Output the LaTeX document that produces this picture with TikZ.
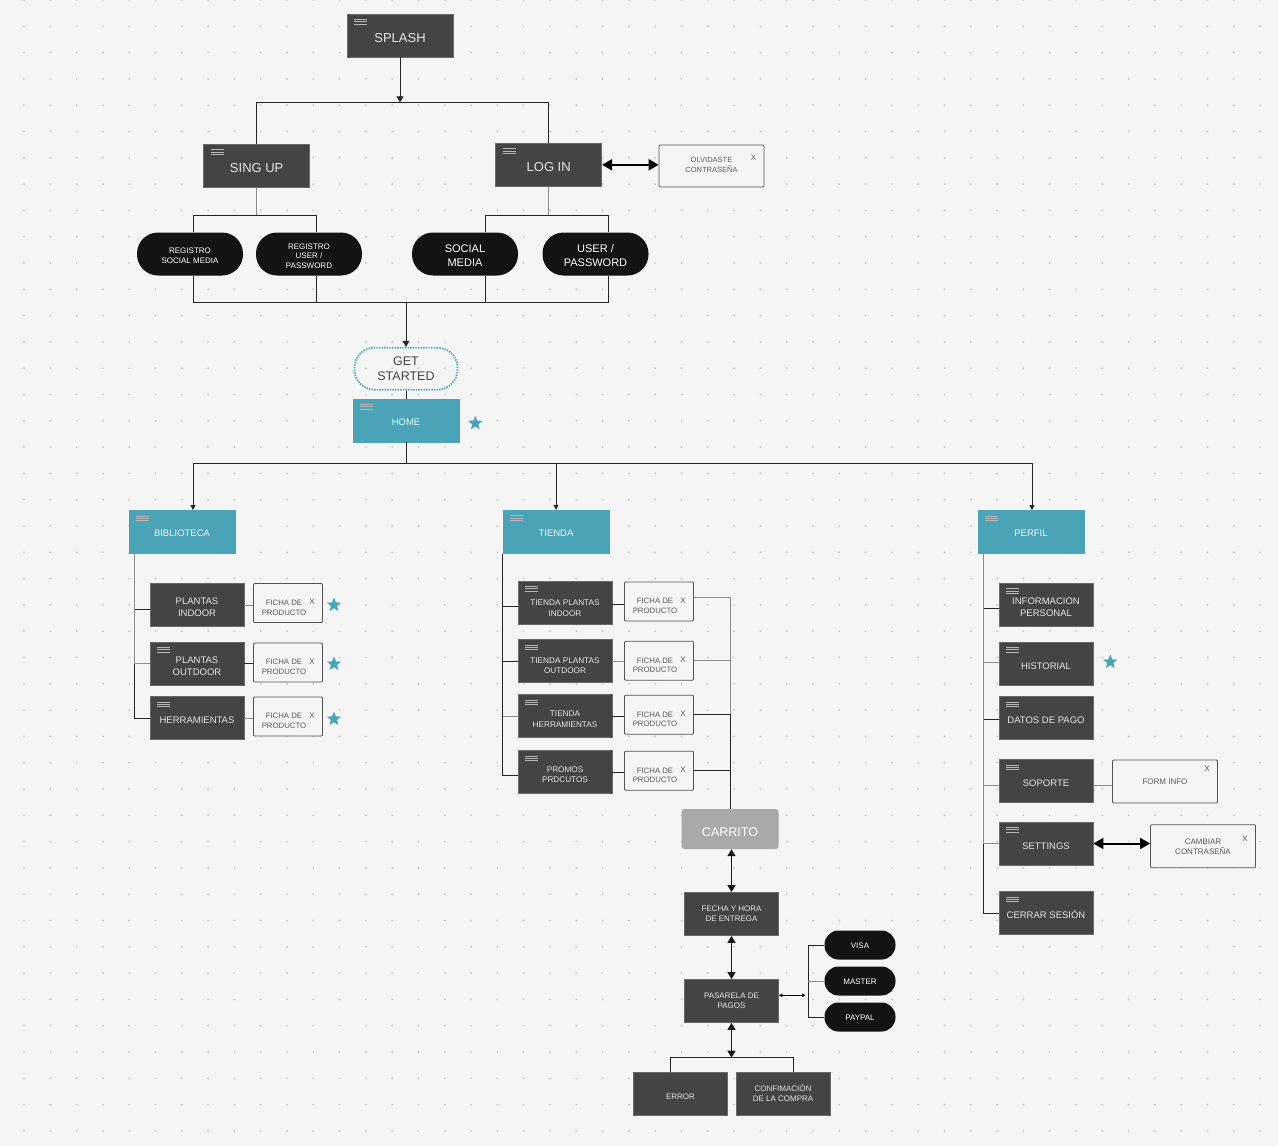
\documentclass[tikz,border=0pt]{standalone}
\usepackage{fontspec}
\setmainfont{Liberation Sans}
\usetikzlibrary{arrows.meta,shapes.geometric}
\definecolor{bgc}{HTML}{F5F5F5}
\definecolor{dotc}{HTML}{C6C6C6}
\definecolor{boxgray}{HTML}{444444}
\definecolor{boxline}{HTML}{6A6A6A}
\definecolor{tealc}{HTML}{4AA3B6}
\definecolor{pillc}{HTML}{131313}
\definecolor{cartc}{HTML}{A9A9A9}
\definecolor{popline}{HTML}{555555}
\definecolor{poptext}{HTML}{5A5A5A}
\newcommand\fsz[2]{\fontsize{#1}{#2}\selectfont}
\newcommand\fichatxt{FICHA DE\hspace*{8pt}\\PRODUCTO\hspace*{8pt}}

\begin{document}
\begin{tikzpicture}[x=1pt,y=-1pt]
\tikzset{
  screen/.style={draw=boxline, line width=0.8pt, fill=boxgray, text=white!90!black,
    align=center, inner sep=1pt, minimum width=94, minimum height=43},
  bigscreen/.style={screen, minimum width=106, font=\fsz{13}{16}, text height=13.3pt},
  tealscreen/.style={screen, fill=tealc, draw=tealc, minimum width=106, text=white!92!tealc,
    font=\fsz{9.5}{12}, text height=9.8pt},
  subtext/.style={font=\fsz{9.5}{12}, text height=#1},
  subtext/.default=11.8pt,
  shoptext/.style={font=\fsz{8.2}{10.2}, text height=#1},
  menu/.style={path picture={\foreach \k in {0,1,2}
      \draw[white!72!black, line width=0.7pt]
        ([xshift=7pt, yshift={-5.5pt-\k*2.2pt}]path picture bounding box.north west) -- ++(13pt,0pt);}},
  pill/.style={fill=pillc, text=white, rounded corners=21, minimum width=106,
    minimum height=43, align=center, inner sep=1pt},
  card/.style={pill, rounded corners=14, minimum width=71, minimum height=29,
    font=\fsz{8}{10}, text height=7.7pt},
  popup/.style={draw=popline, fill=bgc, line width=0.8pt, rounded corners=1,
    minimum width=69, minimum height=39, text=poptext, align=center, inner sep=1pt,
    font=\fsz{7.8}{9.8}, text height=24.4pt,
    path picture={\node[text=poptext, font=\fsz{8}{9}] (xmark) at
      ([xshift=-10.5pt, yshift=-9pt]path picture bounding box.north east) {X};}},
  widepopup/.style={popup, minimum width=105, minimum height=43, font=\fsz{8}{10}},
  fav/.style={star, star points=5, star point ratio=2.3, fill=tealc, minimum size=15, inner sep=0pt},
  conn/.style={black!85, line width=0.8pt},
  connl/.style={black!45, line width=0.8pt},
  arrowend/.style={-{Triangle[length=6pt,width=7pt]}},
  bothbig/.style={{Triangle[length=10pt,width=11pt]}-{Triangle[length=10pt,width=11pt]}, line width=2pt, black},
  bothmid/.style={{Triangle[length=7pt,width=8pt]}-{Triangle[length=7pt,width=8pt]}, line width=1.5pt, black!90},
  bothsmall/.style={{Triangle[length=3.5pt,width=3.5pt]}-{Triangle[length=3.5pt,width=3.5pt]}, line width=0.7pt, black}
}
\useasboundingbox (0,0) rectangle (1278,1146);
\fill[bgc] (0,0) rectangle (1278,1146);
\foreach \i in {0,...,47}
  \foreach \j in {0,...,43}
    \fill[dotc] (24+26.3*\i, 26.3*\j) circle (1pt);

\node[bigscreen, menu] (splash) at (400,35.5) {SPLASH};
\node[bigscreen, menu] (singup) at (256.7,165.7) {SING UP};
\node[bigscreen, menu] (login) at (548.7,164.8) {LOG IN};
\node[widepopup, minimum height=42, font=\fsz{7.5}{9.5}, text height=12.9pt] (olvido) at (711.5,166) {OLVIDASTE\\CONTRASEÑA};

\node[pill, font=\fsz{8}{10}, text height=19.7pt] (regsocial) at (190,254) {REGISTRO\\SOCIAL MEDIA};
\node[pill, font=\fsz{8}{9.5}, text height=28.7pt] (reguser) at (309,254) {REGISTRO\\USER /\\PASSWORD};
\node[pill, font=\fsz{11}{14}, text height=25.9pt] (social) at (465,254) {SOCIAL\\MEDIA};
\node[pill, font=\fsz{11}{14}, text height=25.9pt] (userpass) at (595.5,254) {USER /\\PASSWORD};

\node[draw=tealc, line width=1.8pt, dash pattern=on 1.4pt off 1.2pt, rounded corners=20,
  minimum width=103, minimum height=42, text=boxgray, align=center, font=\fsz{12.5}{15}]
  (start) at (406,368.7) {GET\\STARTED};
\node[tealscreen, menu] (home) at (406,420.5) {HOME};
\node[fav] (starhome) at (475.3,423.3) {};

\node[tealscreen, menu] (biblioteca) at (182,532) {BIBLIOTECA};
\node[tealscreen, menu] (tienda) at (556,531.7) {TIENDA};
\node[tealscreen, menu] (perfil) at (1031,532) {PERFIL};

\node[screen, subtext=23.8pt] (bindoor) at (197,605) {PLANTAS\\INDOOR};
\node[screen, menu, subtext=23.8pt] (boutdoor) at (197,663.5) {PLANTAS\\OUTDOOR};
\node[screen, menu, subtext] (bherr) at (197,718) {HERRAMIENTAS};
\node[popup] (fbindoor) at (288,603) {\fichatxt};
\node[popup] (fboutdoor) at (288,662.5) {\fichatxt};
\node[popup] (fbherr) at (288,716.5) {\fichatxt};
\node[fav] (starbindoor) at (334,605) {};
\node[fav] (starboutdoor) at (334,664) {};
\node[fav] (starbherr) at (334,719) {};

\node[screen, menu, shoptext=27.1pt] (tindoor) at (565,602.5) {TIENDA PLANTAS\\INDOOR};
\node[screen, menu, shoptext=25.1pt] (toutdoor) at (565,661) {TIENDA PLANTAS\\OUTDOOR};
\node[screen, menu, shoptext=22.1pt] (therr) at (565,716) {TIENDA\\HERRAMIENTAS};
\node[screen, menu, shoptext=21.1pt] (tpromo) at (565,772) {PROMOS\\PRDCUTOS};
\node[popup] (ftindoor) at (659,601.5) {\fichatxt};
\node[popup] (ftoutdoor) at (659,660.7) {\fichatxt};
\node[popup] (ftherr) at (659,714.8) {\fichatxt};
\node[popup] (ftpromo) at (659,770.7) {\fichatxt};

\node[fill=cartc, rounded corners=3, minimum width=97, minimum height=40, text=white,
  font=\fsz{12.5}{15}, text height=15.5pt] (carrito) at (730,829) {CARRITO};
\node[screen, font=\fsz{8}{10}] (fecha) at (731.5,914) {FECHA Y HORA\\DE ENTREGA};
\node[screen, font=\fsz{8}{10}] (pasarela) at (731.5,1001) {PASARELA DE\\PAGOS};
\node[card] (visa) at (860,945) {VISA};
\node[card] (master) at (860,981) {MASTER};
\node[card] (paypal) at (860,1017) {PAYPAL};
\node[screen, font=\fsz{8}{10}, text height=11.7pt] (error) at (680.5,1094) {ERROR};
\node[screen, font=\fsz{8}{10}, text height=15.7pt] (confirm) at (783,1094) {CONFIMACIÓN\\DE LA COMPRA};

\node[screen, menu, subtext=23.8pt] (info) at (1046,604.7) {INFORMACION\\PERSONAL};
\node[screen, menu, subtext] (hist) at (1046,663.5) {HISTORIAL};
\node[screen, menu, subtext] (datos) at (1046,718) {DATOS DE PAGO};
\node[screen, menu, subtext] (soporte) at (1046,781) {SOPORTE};
\node[screen, menu, subtext] (settings) at (1046,843.5) {SETTINGS};
\node[screen, menu, subtext] (cerrar) at (1046,913) {CERRAR SESIÓN};
\node[widepopup, text height=5.7pt] (forminfo) at (1165,781.5) {FORM INFO};
\node[widepopup, text height=15.7pt] (cambiar) at (1203,846.3) {CAMBIAR\\CONTRASEÑA};
\node[fav] (starhist) at (1110.3,662) {};

\coordinate (jtop) at (400,102.3);
\draw[conn, arrowend] (splash) -- (jtop);
\draw[conn] (singup.north) |- (jtop) -| (login.north);
\draw[bothbig] (login.east) -- (login.east -| olvido.west);

\coordinate (jsign) at (256.7,215.7);
\coordinate (jlog) at (548.7,215.7);
\draw[connl] (singup) -- (jsign);
\draw[connl] (login) -- (jlog);
\draw[conn] ([xshift=3]regsocial.north) |- (jsign) -| ([xshift=7]reguser.north);
\draw[conn] ([xshift=20]social.north) |- (jlog) -| ([xshift=13]userpass.north);

\coordinate (jreg) at (406,302.3);
\draw[conn] ([xshift=3]regsocial.south) |- (jreg) -| ([xshift=13]userpass.south);
\draw[conn] ([xshift=7]reguser.south) -- ([xshift=7]reguser.south |- jreg);
\draw[conn] ([xshift=20]social.south) -- ([xshift=20]social.south |- jreg);
\draw[conn, arrowend] (jreg) -- (start);
\draw[conn] (start) -- (home);

\coordinate (jhome) at (406,463);
\draw[conn] (home) -- (jhome);
\draw[conn, -{Triangle[length=5pt,width=5pt]}] (jhome) -| ([xshift=11]biblioteca.north);
\draw[conn, -{Triangle[length=5pt,width=5pt]}] (jhome) -| (tienda.north);
\draw[conn, -{Triangle[length=5pt,width=5pt]}] (jhome) -| ([xshift=1]perfil.north);

\draw[conn] ([xshift=6]biblioteca.south west) |- (bherr.west);
\draw[conn] ([xshift=6]biblioteca.south west) |- ([yshift=-4]bindoor.west);
\draw[connl] ([xshift=6]biblioteca.south west) |- (boutdoor.west);
\draw[connl] (bindoor.east) -- (bindoor.east -| fbindoor.west);
\draw[conn] (boutdoor.east) -- (boutdoor.east -| fboutdoor.west);
\draw[connl] (bherr.east) -- (bherr.east -| fbherr.west);

\draw[conn] (tienda.south west) |- ([yshift=-4]tindoor.west);
\draw[conn] (tienda.south west) |- (toutdoor.west);
\draw[connl] (tienda.south west) |- (therr.west);
\draw[conn] (tienda.south west) |- ([yshift=-3]tpromo.west);
\draw[conn] ([yshift=-2]tindoor.east) -- ([yshift=-2]tindoor.east -| ftindoor.west);
\draw[connl] (toutdoor.east) -- (toutdoor.east -| ftoutdoor.west);
\draw[conn] (therr.east) -- (therr.east -| ftherr.west);
\draw[conn] (tpromo.east) -- (tpromo.east -| ftpromo.west);
\draw[connl] ([yshift=4.5]ftindoor.east) -| (carrito.north);
\draw[connl] (ftoutdoor.east) -| (carrito.north);
\draw[conn] (ftherr.east) -| (carrito.north);
\draw[conn] (ftpromo.east) -| (carrito.north);

\draw[bothmid] (carrito.south -| fecha.north) -- (fecha.north);
\draw[bothmid] (fecha) -- (pasarela);
\coordinate (jpago) at (731.5,1057.7);
\draw[bothmid] (pasarela) -- (jpago);
\draw[conn] ([xshift=-10]error.north) |- (jpago) -| ([xshift=10]confirm.north);
\coordinate (jcard) at (805.5,995.3);
\draw[bothsmall] ([yshift=5.7]pasarela.east) -- (jcard);
\draw[conn] (visa.west) -- ++(-16.4,0) |- (paypal.west);
\draw[connl] (master.west) -- ++(-16.4,0);

\draw[conn] ([xshift=6]perfil.south west) |- (cerrar.west);
\draw[conn] ([xshift=6]perfil.south west) |- ([yshift=-4]info.west);
\draw[connl] ([xshift=6]perfil.south west) |- ([yshift=1.5]hist.west);
\draw[conn] ([xshift=6]perfil.south west) |- ([yshift=-1.3]datos.west);
\draw[connl] ([xshift=6]perfil.south west) |- ([yshift=-4]soporte.west);
\draw[connl] ([xshift=6]perfil.south west) |- (settings.west);
\draw[connl] ([yshift=-4]soporte.east) -- ([yshift=-4]soporte.east -| forminfo.west);
\draw[bothbig] (settings.east) -- (settings.east -| cambiar.west);
\end{tikzpicture}
\end{document}
